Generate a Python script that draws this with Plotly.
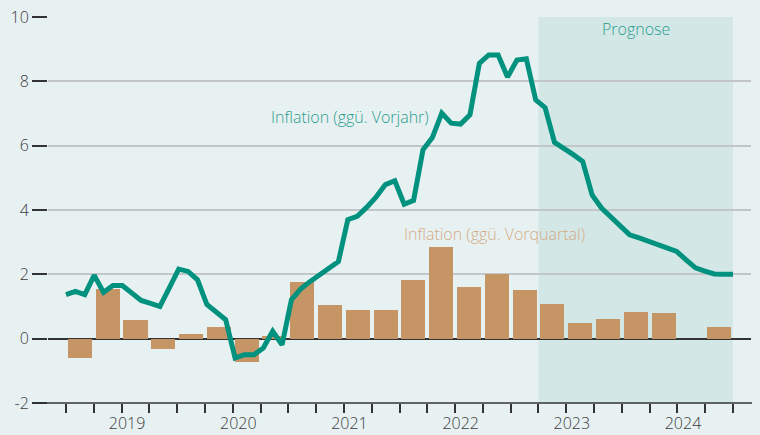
import plotly.graph_objects as go

# ---- data ----
years = ["2019", "2020", "2021", "2022", "2023", "2024"]

# Inflation ggü. Vorjahr, monthly Jan 2019 .. Dec 2024 (from 2023 Jun: Prognose)
yoy = [1.37, 1.47, 1.37, 1.97, 1.44, 1.65, 1.65, 1.42, 1.19, 1.10, 1.00, 1.58,
       2.16, 2.09, 1.83, 1.06, 0.82, 0.59, -0.60, -0.50, -0.50, -0.29, 0.23, -0.19,
       1.21, 1.55, 1.78, 1.98, 2.19, 2.40, 3.70, 3.80, 4.08, 4.40, 4.79, 4.91,
       4.18, 4.30, 5.87, 6.25, 7.01, 6.70, 6.67, 6.96, 8.56, 8.82, 8.82, 8.13,
       8.66, 8.70, 7.42, 7.18, 6.10, 5.92, 5.72, 5.51, 4.47, 4.06, 3.80, 3.52,
       3.23, 3.13, 3.03, 2.92, 2.82, 2.71, 2.45, 2.20, 2.10, 2.01, 2.00, 2.00]

# Inflation ggü. Vorquartal, quarterly Q1 2019 .. Q4 2024
qoq = [-0.61, 1.55, 0.59, -0.33, 0.16, 0.37, -0.73, 0.09,
       1.77, 1.05, 0.90, 0.90, 1.83, 2.86, 1.61, 2.02,
       1.52, 1.09, 0.50, 0.62, 0.84, 0.81, None, 0.37]

forecast_start_month = 51   # Apr 2023 (months since Jan 2019)
forecast_end_month = 72     # Jan 2025

BG = "#e8f1f2"
SHADE = "#d4e7e7"
TEAL = "#00917f"
TEAL_TXT = "#2a9d8e"
TAN = "#c59566"
TAN_TXT = "#d3ac86"
DARK = "#333333"
GRID = "#c3c6c8"
FONT = "Open Sans"
TICKC = "#3c3c3c"

# quarter centers and month positions (months since Jan 2019)
q_x = [3 * q + 1.5 for q in range(len(qoq))]
n = len(yoy)
line_x = [i * 72 / (n - 1) for i in range(n)]
year_bounds = [12 * k for k in range(len(years) + 1)]
year_labels_x = [12 * k + 6.6 for k in range(len(years))]

fig = go.Figure()
fig.add_trace(go.Bar(x=q_x, y=qoq, width=2.6, marker=dict(color=TAN, line=dict(width=0)),
                     showlegend=False, hoverinfo="skip"))
fig.add_trace(go.Scatter(x=line_x, y=yoy, mode="lines",
                         line=dict(color=TEAL, width=5, shape="linear"),
                         showlegend=False, hoverinfo="skip"))
# invisible trace to keep the label axis alive
fig.add_trace(go.Scatter(x=[year_labels_x[0]], y=[None], xaxis="x2", mode="markers",
                         showlegend=False, hoverinfo="skip"))

xr = [-1.94, 73.94]
tfont = dict(family=FONT, size=16, color=TICKC, weight=300)
fig.update_layout(
    width=760, height=435,
    margin=dict(l=48, r=9, t=16, b=32, autoexpand=False),
    paper_bgcolor=BG, plot_bgcolor=BG,
    font=dict(family=FONT, size=16, color=TICKC),
    bargap=0,
    xaxis=dict(range=xr, showgrid=False, zeroline=False, showline=False, automargin=False,
               tickmode="array", tickvals=year_bounds, ticktext=[""] * len(year_bounds),
               ticks="outside", ticklen=16, tickwidth=1.5, tickcolor=DARK,
               showticklabels=False,
               minor=dict(dtick=3, tick0=0, ticks="outside", ticklen=9,
                          tickwidth=1.5, tickcolor=DARK, showgrid=False)),
    xaxis2=dict(range=xr, overlaying="x", anchor="y", side="bottom", automargin=False,
                showgrid=False, zeroline=False, showline=False,
                tickmode="array", tickvals=year_labels_x, ticktext=years,
                ticks="outside", ticklen=6, tickcolor="rgba(0,0,0,0)",
                tickfont=tfont),
    yaxis=dict(range=[-2, 10.03], tickmode="array", automargin=False,
               tickvals=[-2, 0, 2, 4, 6, 8, 10],
               ticktext=["-2", "0", "2", "4", "6", "8", "10"],
               ticks="outside", ticklen=15, tickwidth=1.5, tickcolor=DARK,
               showgrid=True, gridcolor=GRID, gridwidth=1.5,
               zeroline=True, zerolinecolor=DARK, zerolinewidth=1.5,
               showline=False, tickfont=tfont),
    shapes=[
        dict(type="rect", xref="x", yref="y", x0=forecast_start_month, x1=forecast_end_month,
             y0=-2, y1=10, fillcolor=SHADE, line=dict(width=0), layer="below"),
        dict(type="line", xref="paper", yref="paper", x0=-0.0213, x1=1.0014, y0=0, y1=0,
             line=dict(color=DARK, width=1.5), layer="above"),
    ],
    annotations=[
        dict(x=30.66, y=6.9, xref="x", yref="y", text="Inflation (ggü. Vorjahr)",
             showarrow=False, font=dict(family=FONT, size=16, color=TEAL_TXT, weight=300)),
        dict(x=46.2, y=3.26, xref="x", yref="y", text="Inflation (ggü. Vorquartal)",
             showarrow=False, font=dict(family=FONT, size=16, color=TAN_TXT, weight=300)),
        dict(x=61.5, y=9.64, xref="x", yref="y", text="Prognose",
             showarrow=False, font=dict(family=FONT, size=16, color=TEAL_TXT, weight=300)),
    ],
)

fig.write_html("out.html", config={"displayModeBar": False},
               post_script="document.body.style.margin='0';document.body.style.background='" + BG + "';")
